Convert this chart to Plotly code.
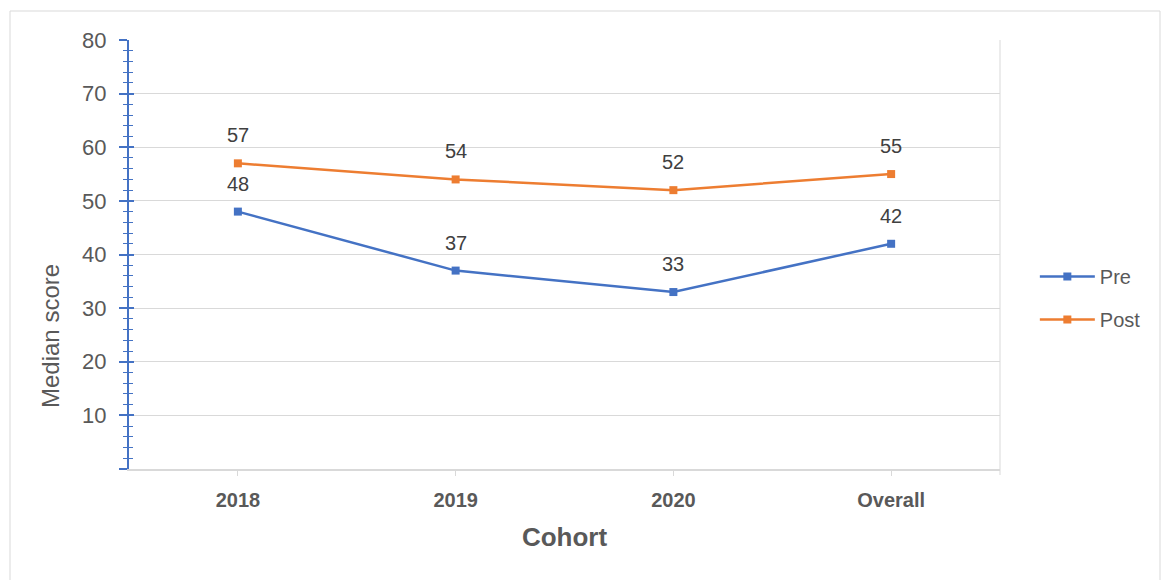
import plotly.graph_objects as go

categories = ["2018", "2019", "2020", "Overall"]
pre_values = [48, 37, 33, 42]
post_values = [57, 54, 52, 55]
y_tick_vals = [0, 10, 20, 30, 40, 50, 60, 70, 80]
y_tick_text = ["", "10", "20", "30", "40", "50", "60", "70", "80"]

BLUE = "#4472C4"
ORANGE = "#ED7D31"
GRID = "#D9D9D9"
FONT = "Liberation Sans, Arial, sans-serif"

W, H = 1161, 580
ML, MR, MT, MB = 129, 161, 40, 111
PW = W - ML - MR
PH = H - MT - MB

fig = go.Figure()
fig.add_trace(go.Scatter(
    x=categories, y=pre_values, name="Pre", mode="lines+markers",
    line=dict(color=BLUE, width=2.5), marker=dict(symbol="square", size=8, color=BLUE),
    legendgroup="pre"))
fig.add_trace(go.Scatter(
    x=categories, y=post_values, name="Post", mode="lines+markers",
    line=dict(color=ORANGE, width=2.5), marker=dict(symbol="square", size=8, color=ORANGE),
    legendgroup="post"))
# invisible trace on the overlay axis so it gets drawn
fig.add_trace(go.Scatter(x=categories, y=pre_values, yaxis="y2", mode="none",
                         showlegend=False, hoverinfo="skip"))


def px2paper_x(px):
    return (px - ML) / PW


def px2paper_y(py):
    return (H - MB - py) / PH


annotations = []
for series in (pre_values, post_values):
    for i, v in enumerate(series):
        annotations.append(dict(x=i, y=v, xref="x", yref="y", text=str(v), showarrow=False,
                                yshift=28, font=dict(family=FONT, size=20, color="#404040")))

annotations.append(dict(x=px2paper_x(50), y=px2paper_y(336), xref="paper", yref="paper",
                        text="Median score", textangle=-90, showarrow=False,
                        xanchor="center", yanchor="middle",
                        font=dict(family=FONT, size=24, color="#595959")))

shapes = [
    # outer chart border
    dict(type="rect", xref="paper", yref="paper",
         x0=px2paper_x(10), x1=px2paper_x(1160), y0=px2paper_y(600), y1=px2paper_y(11),
         line=dict(color=GRID, width=1), fillcolor="rgba(0,0,0,0)", layer="below"),
    # right plot edge
    dict(type="line", xref="paper", yref="paper", x0=1, x1=1,
         y0=px2paper_y(475), y1=1, line=dict(color=GRID, width=1)),
]

fig.update_layout(
    width=W, height=H,
    margin=dict(l=ML, r=MR, t=MT, b=MB),
    paper_bgcolor="white", plot_bgcolor="white",
    font=dict(family=FONT, color="#595959"),
    showlegend=True,
    legend=dict(x=1.04, y=px2paper_y(298), xanchor="left", yanchor="middle",
                font=dict(size=20, color="#595959"), tracegroupgap=14,
                traceorder="grouped", itemwidth=55, bgcolor="rgba(0,0,0,0)"),
    xaxis=dict(type="category", range=[-0.5, 3.5], showgrid=False,
               showline=True, linecolor=GRID, linewidth=1.5,
               ticks="outside", tickcolor=GRID, ticklen=5,
               tickfont=dict(family=FONT, size=20, color="#595959", weight="bold"),
               ticklabelstandoff=7,
               title=dict(text="<b>Cohort</b>", font=dict(family=FONT, size=26, color="#595959"), standoff=18),
               zeroline=False),
    yaxis=dict(range=[0, 80], tickvals=y_tick_vals, ticktext=y_tick_text,
               showgrid=True, gridcolor=GRID, gridwidth=1,
               showline=True, linecolor=BLUE, linewidth=2,
               ticks="outside", tickcolor=BLUE, ticklen=8, tickwidth=1.5,
               minor=dict(dtick=2, ticks="outside", ticklen=4, tickcolor=BLUE, tickwidth=1, showgrid=False),
               tickfont=dict(family=FONT, size=22, color="#595959"),
               ticklabelstandoff=8,
               zeroline=False),
    yaxis2=dict(range=[0, 80], overlaying="y", side="left", tickvals=y_tick_vals,
                showticklabels=False, showgrid=False, showline=False, zeroline=False,
                ticks="inside", tickcolor=BLUE, ticklen=5, tickwidth=1.5,
                minor=dict(dtick=2, ticks="inside", ticklen=4, tickcolor=BLUE, tickwidth=1, showgrid=False)),
    annotations=annotations,
    shapes=shapes,
)

fig.write_html("out.html")
